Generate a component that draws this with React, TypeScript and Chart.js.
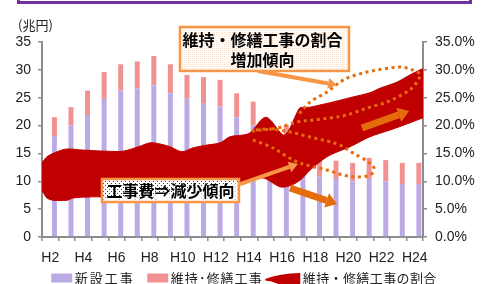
import React, { useEffect, useRef } from 'react';
import { Chart, registerables } from 'chart.js';

Chart.register(...registerables);

// ---------- data ----------
const categories = ['H2','H3','H4','H5','H6','H7','H8','H9','H10','H11','H12','H13','H14','H15','H16','H17','H18','H19','H20','H21','H22','H23','H24'];
const xTickLabels = ['H2','H4','H6','H8','H10','H12','H14','H16','H18','H20','H22','H24'];
// 新設工事 (兆円)
const newConstruction = [18.1, 20.0, 21.9, 24.8, 26.3, 26.7, 27.2, 25.8, 24.8, 23.9, 23.4, 21.5, 20.0, 16.8, 15.9, 13.4, 10.9, 10.4, 10.0, 10.4, 10.0, 9.5, 9.5];
// 維持・修繕工事 (兆円)
const maintenance = [3.4, 3.3, 4.4, 4.8, 4.7, 4.8, 5.3, 5.2, 4.3, 4.8, 4.8, 4.3, 4.3, 4.0, 4.2, 3.6, 3.0, 3.3, 3.3, 3.8, 3.8, 3.8, 3.8];
// 維持・修繕工事の割合 ribbon (upper / lower edge, % on right axis, x in category index)
const ribbonUpperX = [-0.5, -0.2, 0.41, 1.01, 1.98, 3.42, 4.39, 5.42, 6.02, 6.62, 7.23, 7.95, 8.62, 9.46, 10.25, 10.85, 11.63, 12.06, 13.02, 14.05, 14.35, 14.89, 15.08, 15.68, 16.28, 16.89, 18.09, 19.3, 19.9, 20.93, 21.72, 22.32, 22.5];
const ribbonUpperY = [13.3, 14.4, 15.3, 15.8, 15.6, 15.4, 15.4, 16.3, 16.9, 16.7, 16.2, 15.3, 16.0, 16.5, 16.9, 18.0, 18.3, 18.7, 21.5, 18.3, 18.9, 22.3, 23.2, 23.3, 23.7, 24.1, 25.0, 25.9, 26.7, 27.8, 29.1, 30.0, 30.2];
const ribbonLowerX = [-0.5, -0.2, 0.16, 1.01, 1.37, 2.4, 3.18, 5.42, 7.83, 9.64, 11.45, 12.84, 13.87, 14.47, 15.08, 15.68, 16.28, 16.89, 18.09, 19.3, 20.51, 21.72, 22.5];
const ribbonLowerY = [8.4, 7.0, 6.6, 6.6, 7.0, 7.2, 7.2, 7.4, 8.4, 9.2, 9.9, 10.6, 9.0, 9.2, 10.2, 12.0, 13.5, 14.7, 16.2, 18.0, 19.2, 20.5, 21.4];
const leftTicks = [0, 5, 10, 15, 20, 25, 30, 35];
const legendLabels = ['新設工事', '維持･修繕工事', '維持・修繕工事の割合'];
const unitLabel = '(兆円)';
const noteUp = ['維持・修繕工事の割合', '増加傾向'];
const noteDown = '工事費⇒減少傾向';

// annotation geometry (category index, value)
const ellipseA = [[12.18,19.03],[13.69,19.56],[14.89,20.64],[15.86,21.0],[16.89,21.36],[17.91,21.9],[19.12,23.15],[20.33,24.23],[21.41,25.85],[21.9,26.92],[22.2,28.18],[22.32,29.26],[21.72,30.15],[21.11,30.51],[20.51,30.33],[19.72,29.97],[18.88,29.44],[18.09,28.72],[17.49,27.82],[16.71,26.03],[15.86,24.59],[15.5,23.69],[15.2,22.8],[14.95,21.72]];
const ellipseB = [[12.24,17.41],[13.45,15.97],[14.65,13.82],[15.68,12.74],[16.7,12.03],[17.67,11.13],[18.52,10.77],[19.3,11.13],[19.54,12.38],[19.12,13.64],[18.27,15.08],[17.49,16.51],[16.7,17.23],[15.68,17.95],[14.47,18.85],[13.26,19.38],[12.36,19.21]];
const arrowsLight = [[[12.54,29.8],[17.31,27.28]], [[11.45,9.51],[14.95,13.1]]];
const arrowsDark = [[[14.47,8.8],[17.31,5.92]], [[18.82,19.56],[21.66,22.62]]];
const boxUp = [[7.83,37.69],[18.03,29.8]];
const boxDown = [[3.12,10.41],[11.39,6.28]];

const NEW_COLOR = '#BCAAE5';
const MAINT_COLOR = '#F19192';
const RED = '#C00000';
const AXIS = '#8C8C8C';
const TEXT = '#222222';
const ORANGE_L = '#F79646';
const ORANGE_D = '#E46C0A';

function smoothPath(ctx: CanvasRenderingContext2D, pts: number[][]) {
  ctx.beginPath();
  ctx.moveTo(pts[0][0], pts[0][1]);
  for (let i = 0; i < pts.length - 1; i++) {
    const p0 = pts[i - 1] || pts[i], p1 = pts[i], p2 = pts[i + 1], p3 = pts[i + 2] || p2;
    ctx.bezierCurveTo(
      p1[0] + (p2[0] - p0[0]) / 6, p1[1] + (p2[1] - p0[1]) / 6,
      p2[0] - (p3[0] - p1[0]) / 6, p2[1] - (p3[1] - p1[1]) / 6,
      p2[0], p2[1]);
  }
  ctx.stroke();
}

function drawArrow(ctx: CanvasRenderingContext2D, a: number[], b: number[], w: number, hw: number, hl: number, color: string) {
  const ang = Math.atan2(b[1] - a[1], b[0] - a[0]);
  const bx = b[0] - hl * Math.cos(ang), by = b[1] - hl * Math.sin(ang);
  ctx.strokeStyle = color; ctx.lineWidth = w; ctx.lineCap = 'butt'; ctx.setLineDash([]);
  ctx.beginPath(); ctx.moveTo(a[0], a[1]); ctx.lineTo(bx, by); ctx.stroke();
  ctx.fillStyle = color;
  ctx.beginPath();
  ctx.moveTo(b[0], b[1]);
  ctx.lineTo(bx + (hw / 2) * Math.sin(ang), by - (hw / 2) * Math.cos(ang));
  ctx.lineTo(bx - (hw / 2) * Math.sin(ang), by + (hw / 2) * Math.cos(ang));
  ctx.closePath(); ctx.fill();
}

function makePattern(ctx: CanvasRenderingContext2D, kind: 'check' | 'holes') {
  const c = document.createElement('canvas');
  c.width = 4; c.height = 4;
  const p = c.getContext('2d')!;
  p.fillStyle = '#FFFFFF'; p.fillRect(0, 0, 4, 4);
  if (kind === 'check') {
    p.fillStyle = '#FBE3D2';
    p.fillRect(0, 0, 1, 1); p.fillRect(2, 2, 1, 1); p.fillRect(2, 0, 1, 1); p.fillRect(0, 2, 1, 1);
  } else {
    p.clearRect(1, 1, 1, 1); p.clearRect(3, 3, 1, 1);
  }
  return ctx.createPattern(c, 'repeat')!;
}

function drawSwoosh(ctx: CanvasRenderingContext2D, x: number, y: number) {
  ctx.fillStyle = RED;
  ctx.beginPath();
  ctx.moveTo(x, y + 1);
  ctx.quadraticCurveTo(x + 14, y - 4.5, x + 35, y - 5);
  ctx.lineTo(x + 35, y + 8);
  ctx.lineTo(x + 17, y + 8);
  ctx.quadraticCurveTo(x + 8, y + 3, x, y + 2.5);
  ctx.closePath();
  ctx.fill();
}

const annotations = {
  id: 'annotations',
  afterDatasetsDraw(chart: any) {
    const ctx: CanvasRenderingContext2D = chart.ctx;
    const xs = chart.scales.x2, ys = chart.scales.y1;
    const P = (p: number[]) => [xs.getPixelForValue(p[0]), ys.getPixelForValue(p[1])];
    ctx.save();
    ctx.strokeStyle = ORANGE_D; ctx.lineWidth = 3; ctx.setLineDash([3, 3.6]); ctx.lineCap = 'butt';
    smoothPath(ctx, ellipseA.map(P));
    smoothPath(ctx, ellipseB.map(P));
    arrowsLight.forEach(([a, b]) => drawArrow(ctx, P(a), P(b), 4, 11, 9, ORANGE_L));
    arrowsDark.forEach(([a, b]) => drawArrow(ctx, P(a), P(b), 7, 15, 11, ORANGE_D));
    ctx.restore();
  },
  afterDraw(chart: any) {
    const ctx: CanvasRenderingContext2D = chart.ctx;
    const area = chart.chartArea;
    const xs = chart.scales.x2, ys = chart.scales.y1;
    const P = (p: number[]) => [xs.getPixelForValue(p[0]), ys.getPixelForValue(p[1])];
    ctx.save();
    // unit label
    ctx.fillStyle = TEXT;
    ctx.font = '13px "Noto Sans CJK JP"';
    ctx.textAlign = 'left'; ctx.textBaseline = 'middle';
    ctx.fillText(unitLabel, area.left - 24, area.top - 17);

    // legend
    const markerW = [21, 21, 35];
    const textW = [60, 92, 134];
    const gaps = [12.5, 2.5];
    const total = markerW.reduce((a, b) => a + b, 0) + textW.reduce((a, b) => a + b, 0) + 2.5 * 3 + gaps[0] + gaps[1];
    let lx = (area.left + area.right) / 2 - total / 2 + 11.5;
    const ly = area.bottom + 41;
    ctx.font = '13px "Noto Sans CJK JP"';
    const colors = [NEW_COLOR, MAINT_COLOR, RED];
    legendLabels.forEach((t, i) => {
      if (i < 2) {
        ctx.fillStyle = colors[i];
        ctx.fillRect(lx, ly - 4.5, markerW[i], 9);
      } else {
        drawSwoosh(ctx, lx, ly);
      }
      lx += markerW[i] + 2.5;
      (ctx as any).letterSpacing = '0px';
      const w = ctx.measureText(t).width;
      const n = Array.from(t).length;
      (ctx as any).letterSpacing = Math.max(0, (textW[i] - w) / n).toFixed(2) + 'px';
      ctx.fillStyle = TEXT;
      ctx.textAlign = 'left';
      ctx.fillText(t, lx, ly);
      (ctx as any).letterSpacing = '0px';
      lx += textW[i] + (gaps[i] || 0);
    });

    // upper note box
    const [u1, u2] = [P(boxUp[0]), P(boxUp[1])];
    ctx.fillStyle = makePattern(ctx, 'check');
    ctx.fillRect(u1[0], u1[1], u2[0] - u1[0], u2[1] - u1[1]);
    ctx.strokeStyle = ORANGE_L; ctx.lineWidth = 2.5;
    ctx.strokeRect(u1[0], u1[1], u2[0] - u1[0], u2[1] - u1[1]);
    ctx.fillStyle = '#000';
    ctx.font = 'bold 16px "Noto Sans CJK JP"';
    ctx.textAlign = 'center';
    const ucx = (u1[0] + u2[0]) / 2 - 2;
    ctx.fillText(noteUp[0], ucx, u1[1] + 13);
    ctx.fillText(noteUp[1], ucx, u1[1] + 32.5);
    // lower note box
    const [d1, d2] = [P(boxDown[0]), P(boxDown[1])];
    ctx.fillStyle = makePattern(ctx, 'holes');
    ctx.fillRect(d1[0], d1[1], d2[0] - d1[0], d2[1] - d1[1]);
    ctx.strokeStyle = ORANGE_L; ctx.lineWidth = 2.5;
    ctx.strokeRect(d1[0], d1[1], d2[0] - d1[0], d2[1] - d1[1]);
    ctx.fillStyle = '#000';
    ctx.fillText(noteDown, (d1[0] + d2[0]) / 2, (d1[1] + d2[1]) / 2 + 0.5);
    ctx.restore();
  },
};

export default function App() {
  const ref = useRef<HTMLCanvasElement>(null);
  useEffect(() => {
    document.body.style.margin = '0';
    const canvas = ref.current!;
    const tickFont = { size: 14, family: '"Liberation Sans", "Noto Sans CJK JP", sans-serif' };
    const chart = new Chart(canvas, {
      type: 'bar',
      data: {
        labels: categories,
        datasets: [
          {
            type: 'line', label: legendLabels[2] + ' upper',
            data: ribbonUpperX.map((x, i) => ({ x, y: ribbonUpperY[i] })),
            xAxisID: 'x2', yAxisID: 'y1',
            borderColor: RED, backgroundColor: RED, borderWidth: 1,
            pointRadius: 0, tension: 0.3, fill: '+1',
          } as any,
          {
            type: 'line', label: legendLabels[2] + ' lower',
            data: ribbonLowerX.map((x, i) => ({ x, y: ribbonLowerY[i] })),
            xAxisID: 'x2', yAxisID: 'y1',
            borderColor: RED, backgroundColor: RED, borderWidth: 1,
            pointRadius: 0, tension: 0.3, fill: false,
          } as any,
          {
            type: 'bar', label: legendLabels[0], data: newConstruction,
            backgroundColor: NEW_COLOR, xAxisID: 'x', yAxisID: 'y',
            barPercentage: 0.6, categoryPercentage: 1,
          },
          {
            type: 'bar', label: legendLabels[1], data: maintenance,
            backgroundColor: MAINT_COLOR, xAxisID: 'x', yAxisID: 'y',
            barPercentage: 0.6, categoryPercentage: 1,
          },
        ],
      },
      options: {
        responsive: false,
        devicePixelRatio: 1,
        animation: false,
        layout: { padding: { top: 42, bottom: 17, left: 0, right: 0 } },
        plugins: {
          tooltip: { enabled: false },
          legend: { display: false },
        },
        scales: {
          x: {
            type: 'category', stacked: true, offset: true,
            grid: { display: true, drawOnChartArea: false, drawTicks: true, tickLength: 4, color: AXIS, lineWidth: 1.5, offset: true },
            border: { display: true, color: AXIS, width: 2 },
            ticks: {
              autoSkip: false, maxRotation: 0, minRotation: 0, padding: 9, color: TEXT, font: tickFont,
              callback: (_v: any, i: number) => (xTickLabels.includes(categories[i]) ? categories[i] : ''),
            },
            afterFit: (s: any) => { s.height = 30; },
          },
          x2: { type: 'linear', display: false, offset: false, min: -0.5, max: 22.5, grid: { offset: false } },
          y: {
            stacked: true, min: leftTicks[0], max: leftTicks[leftTicks.length - 1],
            grid: { display: true, drawOnChartArea: false, drawTicks: true, tickLength: 4, color: AXIS, lineWidth: 1.5 },
            border: { display: true, color: AXIS, width: 2 },
            ticks: { stepSize: 5, padding: 7, color: TEXT, font: tickFont },
            afterFit: (s: any) => { s.width = 42; },
          },
          y1: {
            position: 'right', min: leftTicks[0], max: leftTicks[leftTicks.length - 1],
            grid: { display: true, drawOnChartArea: false, drawTicks: true, tickLength: 4, color: AXIS, lineWidth: 1.5 },
            border: { display: true, color: AXIS, width: 2 },
            ticks: { stepSize: 5, padding: 8, color: TEXT, font: tickFont, callback: (v: any) => Number(v).toFixed(1) + '%' },
            afterFit: (s: any) => { s.width = 59; },
          },
        },
      },
      plugins: [annotations],
    });
    return () => chart.destroy();
  }, []);

  return (
    <div style={{ position: 'relative', width: 482, height: 284, overflow: 'hidden', background: '#fff' }}>
      <canvas ref={ref} width={482} height={284} style={{ display: 'block', width: 482, height: 284 }} />
      <div style={{ position: 'absolute', left: 17, top: -10, width: 455, height: 14, border: '3px solid #7030A0', boxSizing: 'border-box' }} />
    </div>
  );
}
